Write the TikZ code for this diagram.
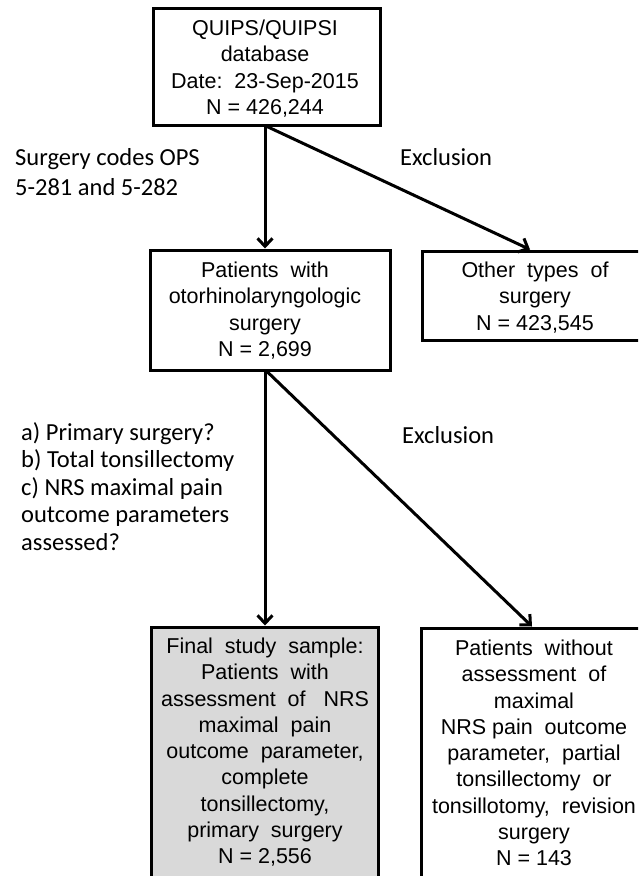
\documentclass[tikz,border=0pt]{standalone}
\usepackage{fontspec}
\setmainfont{Liberation Sans}
\newfontfamily\calibrifont{Carlito}
\usetikzlibrary{arrows.meta}
\definecolor{boxgray}{HTML}{D9D9D9}
\tikzset{
  box/.style={draw=black, line width=3pt, rectangle, inner sep=0pt},
  boxtext/.style={anchor=north, inner sep=0pt, align=center, font=\fontsize{21.5}{26.3}\selectfont},
  lbl/.style={anchor=north west, inner sep=0pt, align=left, font=\calibrifont\fontsize{24.5}{30}\selectfont},
  lbltight/.style={lbl, font=\calibrifont\fontsize{24.5}{27.5}\selectfont},
  arr/.style={line width=3pt, -{Straight Barb[length=8pt,width=15pt,line width=3pt]}},
}
\begin{document}
\begin{tikzpicture}[x=1pt,y=-1pt]
\useasboundingbox (0,0) rectangle (638,876);
\clip (0,0) rectangle (638,876);
% boxes
\node[box, minimum width=227pt, minimum height=117pt] (top) at (266.5,66.5) {};
\node[box, minimum width=240pt, minimum height=120pt] (mid) at (270,310) {};
\node[box, minimum width=240pt, minimum height=89pt] (other) at (542,295.5) {};
\node[box, fill=boxgray, minimum width=227pt, minimum height=280pt] (final) at (264.5,767) {};
\node[box, minimum width=240pt, minimum height=280pt] (excl) at (541,768) {};
% texts
\node[boxtext] (topt) at (265,16.8) {\strut QUIPS/QUIPSI\\\strut database\\\strut Date:\ \ 23-Sep-2015\\\strut N = 426,244};
\node[boxtext] (midt) at (265,258.8) {\strut Patients\ \ with\\\strut otorhinolaryngologic\\\strut surgery\\\strut N = 2,699};
\node[boxtext] (othert) at (535,258.8) {\strut Other\ \ types\ \ of\\\strut surgery\\\strut N = 423,545};
\node[boxtext] (finalt) at (265,634.8) {\strut Final\ \ study\ \ sample:\\\strut Patients\ \ with\\\strut assessment\ \ of\ \ \ NRS\\\strut maximal\ \ pain\\\strut outcome\ \ parameter,\\\strut complete\\\strut tonsillectomy,\\\strut primary\ \ surgery\\\strut N = 2,556};
\node[boxtext] (exclt) at (534,636.8) {\strut Patients\ \ without\\\strut assessment\ \ of\\\strut maximal\\\strut NRS pain\ \ outcome\\\strut parameter,\ \ partial\\\strut tonsillectomy\ \ or\\\strut tonsillotomy,\ \ revision\\\strut surgery\\\strut N = 143};
% labels
\node[lbl] (codes) at (15,144) {\strut Surgery codes OPS\\\strut 5-281 and 5-282};
\node[lbl] (excl1) at (400,144) {\strut Exclusion};
\node[lbltight] (crit) at (21,420.75) {\strut a) Primary surgery?\\\strut b) Total tonsillectomy\\\strut c) NRS maximal pain\\\strut outcome parameters\\\strut assessed?};
\node[lbltight] (excl2) at (402,423.75) {\strut Exclusion};
% connectors
\coordinate (a1) at (top.south -| topt);
\draw[arr] (a1) -- (a1 |- mid.north);
\draw[arr] ([xshift=2pt]a1) -- ([xshift=-5pt]othert |- other.north);
\coordinate (b1) at (mid.south -| midt);
\draw[arr] (b1) -- (b1 |- final.north);
\draw[arr] ([xshift=2pt]b1) -- ([xshift=-2pt]exclt |- excl.north);
\end{tikzpicture}
\end{document}
